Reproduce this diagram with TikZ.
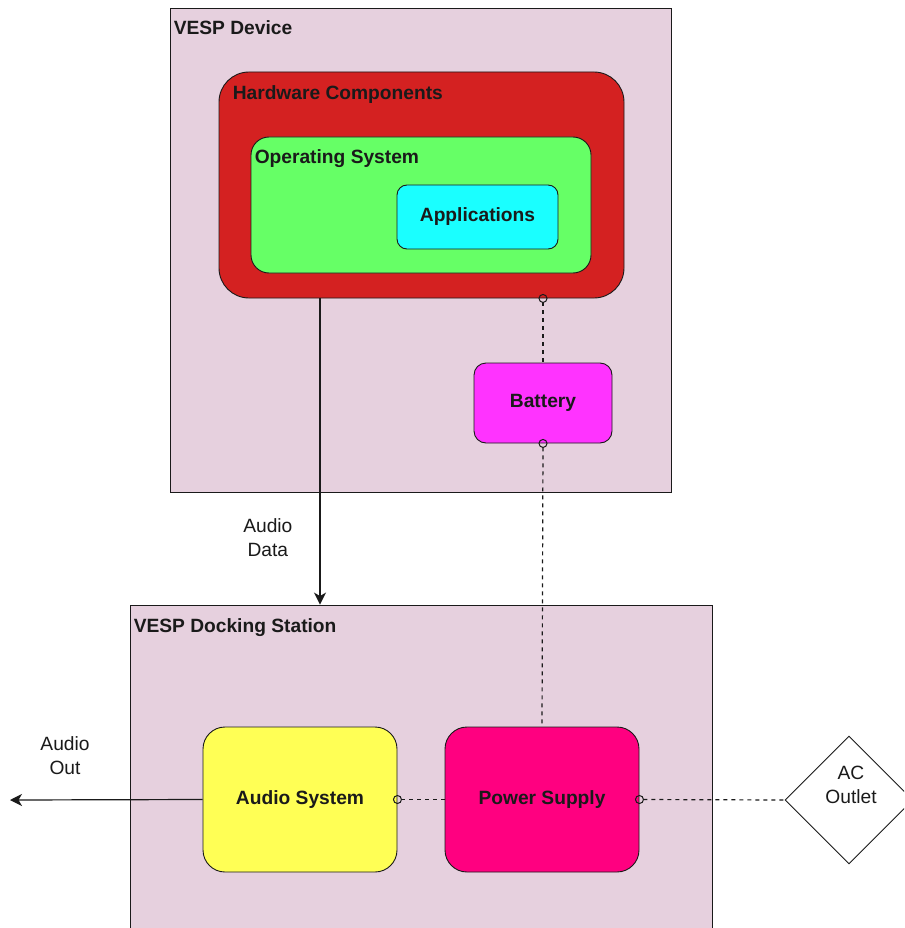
\documentclass[tikz,border=0pt]{standalone}
\usepackage{fontspec}
\setmainfont{Liberation Sans}
\usetikzlibrary{shapes.geometric,arrows.meta,calc}

\definecolor{boxpink}{HTML}{E6D0DE}
\definecolor{hwred}{HTML}{D42121}
\definecolor{osgreen}{HTML}{66FF66}
\definecolor{appcyan}{HTML}{1AFFFF}
\definecolor{batmag}{HTML}{FF33FF}
\definecolor{psrose}{HTML}{FF0080}
\definecolor{audyellow}{HTML}{FFFF55}
\definecolor{ink}{HTML}{1A1A1A}

\tikzset{
  every node/.style={font=\fontsize{19.2}{24}\selectfont, text=ink},
  container/.style={draw=ink, line width=0.9pt, fill=boxpink, inner sep=0pt},
  block/.style={draw=ink, line width=0.9pt, inner sep=0pt, font=\fontsize{19.2}{24}\selectfont\bfseries},
  title/.style={anchor=west, inner sep=0pt, font=\fontsize{19.2}{24}\selectfont\bfseries},
  plain/.style={align=center, inner sep=0pt},
  link/.style={draw=ink, line width=1.2pt},
  power/.style={link, dash pattern=on 4pt off 4pt},
  ring/.tip={Circle[open, length=9pt, width=9pt, line width=1pt]},
  signal/.style={link, -{Stealth[length=12pt, width=12pt, inset=3.5pt]}},
}

\begin{document}
\begin{tikzpicture}[x=1pt, y=-1pt]
  \useasboundingbox (0,0) rectangle (904,928);
  \clip (0,0) rectangle (904,928);
  \fill[white] (0,0) rectangle (904,928);

  % handheld device and its layered software stack
  \node[container, minimum width=501pt, minimum height=484pt] (dev) at (420.5,250) {};
  \node[title] (devt) at ($(dev.north west)+(4,20)$) {VESP Device};

  \node[block, fill=hwred, rounded corners=30pt, minimum width=405pt, minimum height=226pt] (hw) at (421.5,185) {};
  \node[title] (hwt) at ($(hw.north west)+(14,22.5)$) {Hardware Components};

  \node[block, fill=osgreen, rounded corners=18pt, minimum width=340pt, minimum height=136pt] (os) at (421,205) {};
  \node[title] (ost) at ($(os.north west)+(4,22)$) {Operating System};

  \node[block, fill=appcyan, rounded corners=10pt, minimum width=161pt, minimum height=64pt] (apps) at (477.5,217) {Applications};

  \node[block, fill=batmag, rounded corners=12pt, minimum width=138pt, minimum height=80pt] (bat) at (543,403) {Battery};

  % docking station
  \node[container, minimum width=582pt, minimum height=345pt] (dock) at (421,777.5) {};
  \node[title] (dockt) at ($(dock.north west)+(4,23.5)$) {VESP Docking Station};

  \node[block, fill=audyellow, rounded corners=22pt, minimum width=194pt, minimum height=145pt] (aud) at (300,799.5) {Audio System};
  \node[block, fill=psrose, rounded corners=22pt, minimum width=194pt, minimum height=145pt] (ps) at (542,799.5) {Power Supply};

  % mains outlet
  \node[draw=ink, line width=0.9pt, fill=white, diamond, inner sep=0pt, minimum width=128pt, minimum height=128pt,
        label={[plain, xshift=2pt, yshift=15pt]center:{AC\\Outlet}}] (ac) at (849,800) {};

  % audio signal path
  \coordinate (xa) at (320,0);
  \draw[signal] (hw.south -| xa) -- (dock.north -| xa)
    node[pos=0.78, plain, left=27pt] (adlab) {Audio\\Data};

  \coordinate (outend) at (10,800);
  \draw[signal] (aud.west) -- (outend);
  \node[plain] (aolab) at (65,756) {Audio\\Out};

  % power distribution
  \draw[power, {ring}-, shorten <=-4.5pt] (hw.south -| bat.north) -- (bat.north);
  \draw[power, {ring}-, shorten <=-4.5pt] (bat.south) -- (ps.north);
  \draw[power, {ring}-, shorten <=-4.5pt] (aud.east) -- (ps.west);
  \draw[power, {ring}-, shorten <=-4.5pt] (ps.east) -- (ac.west);
\end{tikzpicture}
\end{document}
